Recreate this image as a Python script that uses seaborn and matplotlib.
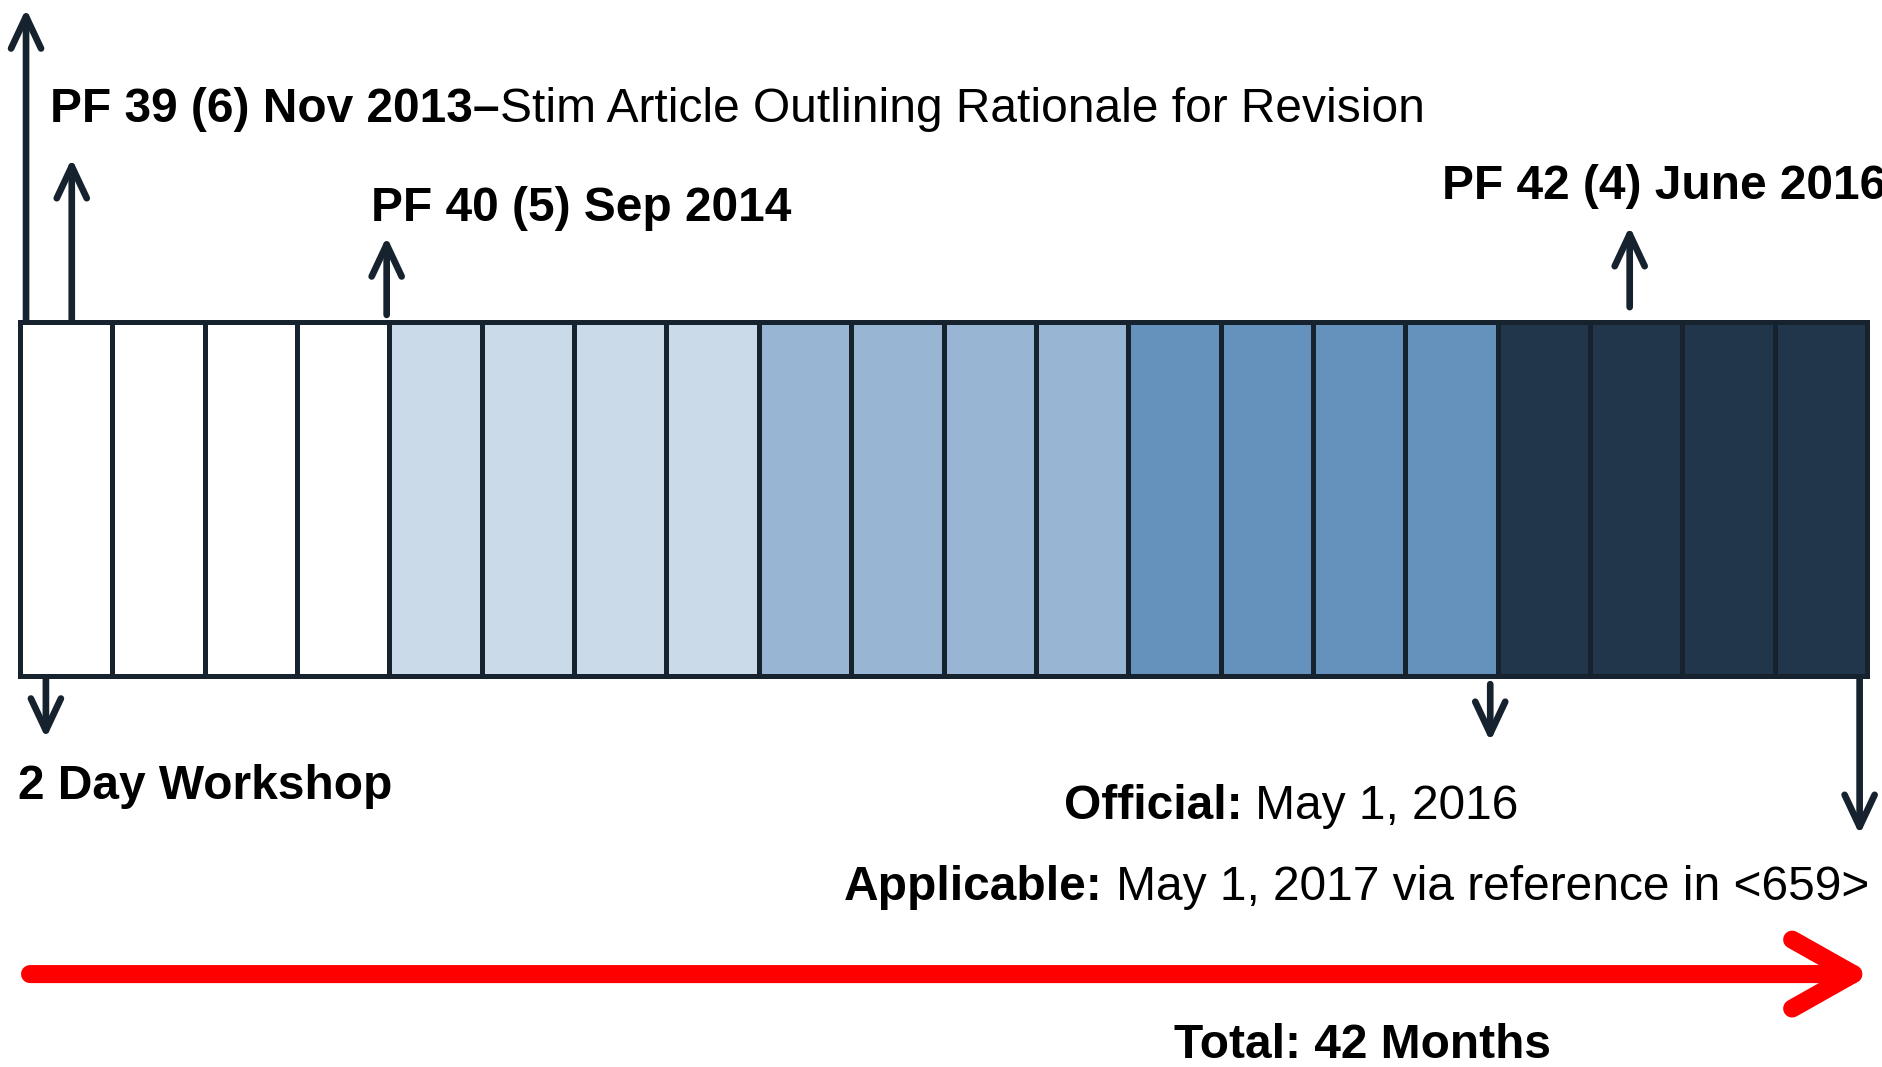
import numpy as np
import pandas as pd
import seaborn as sns
import matplotlib.pyplot as plt

# Timeline data: 20 blocks, 5 phases of 4 blocks each
cells = list(range(20))
phases = ['P1'] * 4 + ['P2'] * 4 + ['P3'] * 4 + ['P4'] * 4 + ['P5'] * 4
heights = [1] * 20
phase_colors = ['#FFFFFF', '#CBDAE8', '#98B6D3', '#6492BC', '#21354B']

# Milestone labels (bold part, regular part)
top_labels = [('PF 39 (6) Nov 2013\u2013', 'Stim Article Outlining Rationale for Revision'),
              ('PF 40 (5) Sep 2014', ''),
              ('PF 42 (4) June 2016', '')]
bottom_labels = [('2 Day Workshop', ''),
                 ('Official:', ' May 1, 2016'),
                 ('Applicable:', ' May 1, 2017 via reference in <659>')]
total_label = 'Total: 42 Months'

edge = '#16232F'

sns.set_theme(style='white')
plt.rcParams['font.family'] = ['Liberation Sans', 'DejaVu Sans']

fig = plt.figure(figsize=(18.83, 10.67), dpi=100)
ax = fig.add_axes([0, 0, 1, 1])

df = pd.DataFrame({'cell': cells, 'phase': phases, 'height': heights})
sns.barplot(data=df, x='cell', y='height', hue='phase', palette=phase_colors,
            dodge=False, width=1, edgecolor=edge, linewidth=3.6, saturation=1,
            errorbar=None, legend=False, ax=ax)

ax.set_xlim(-0.717, 19.673)
ax.set_ylim(-1.1045, 1.9096)
ax.axis('off')


def arrow(x0, y0, x1, y1, lw=4.8, color=edge, ms=20, hl=1.15, hw=0.54):
    ax.annotate('', xy=(x1, y1), xytext=(x0, y0),
                arrowprops=dict(arrowstyle=f'->,head_length={hl},head_width={hw}',
                                lw=lw, color=color, shrinkA=0, shrinkB=0,
                                mutation_scale=ms, capstyle='round', joinstyle='round'))


def rich(x, y, bold, regular, size=34.5):
    t = ax.text(x, y, bold, fontweight='bold', fontsize=size, va='center', ha='left', color='black')
    if regular:
        ax.annotate(regular, xy=(1, 0), xycoords=t, fontsize=size,
                    va='bottom', ha='left', color='black')
    return t


# up arrows
arrow(-0.435, 1.006, -0.435, 1.885)
arrow(0.06, 1.006, 0.06, 1.462)
arrow(3.47, 1.02, 3.47, 1.241)
arrow(16.93, 1.042, 16.93, 1.27)
# down arrows
arrow(-0.22, -0.006, -0.22, -0.176)
arrow(15.42, -0.023, 15.42, -0.185)
arrow(19.42, -0.008, 19.42, -0.448)

# red total arrow
arrow(-0.392, -0.842, 19.55, -0.842, lw=13, color='#FF0000', ms=40, hl=1.1, hw=0.62)

# labels
rich(-0.175, 1.60, *top_labels[0])
rich(3.30, 1.32, *top_labels[1])
rich(14.90, 1.383, *top_labels[2])
rich(-0.52, -0.312, *bottom_labels[0])
rich(10.80, -0.369, *bottom_labels[1])
rich(8.42, -0.598, *bottom_labels[2])
rich(12.0, -1.044, total_label, '')

fig.savefig('out.png', dpi=100)
